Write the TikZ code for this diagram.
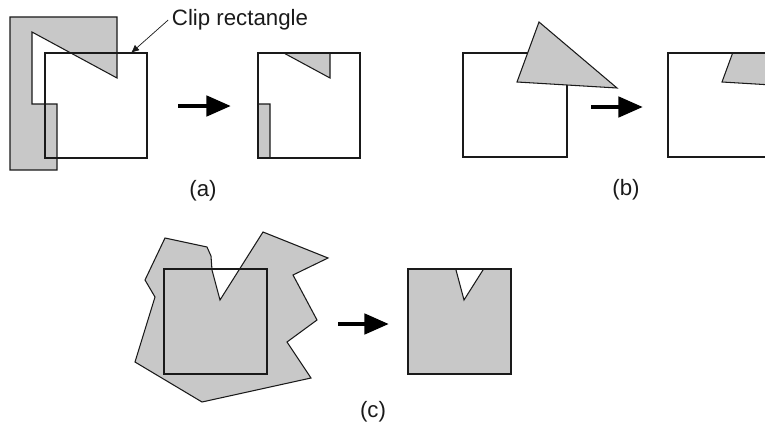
\documentclass[tikz,border=0pt]{standalone}
\usepackage{fontspec}
\setmainfont{Liberation Sans}
\usetikzlibrary{arrows.meta}
\definecolor{shade}{HTML}{C8C8C8}
\definecolor{ink}{HTML}{1A1A1A}
% polygons to be clipped, in pixel units
\newcommand{\polya}{(10,17) -- (117,17) -- (117,78) -- (32,32) -- (32,104) -- (57,104) -- (57,170) -- (10,170) -- cycle}
\newcommand{\polyb}{(539,22) -- (617,88) -- (517,82) -- cycle}
\newcommand{\polyc}{(165,238) -- (207,247) -- (211,256) -- (212,270) -- (220,300) -- (263,232) -- (328,258) -- (293,275) -- (317,320) -- (287,342) -- (311,378) -- (202,402) -- (135,362) -- (155,297) -- (145,280) -- cycle}

\begin{document}
\begin{tikzpicture}[
  x=0.03cm, y=-0.03cm,
  region/.style={fill=shade, draw=ink, line width=0.9pt, line join=miter},
  frame/.style={draw=ink, line width=1.2pt},
  bigarrow/.style={-{Triangle[length=21pt, width=17pt]}, line width=4.2pt, draw=black},
  leader/.style={-{Latex[length=7pt, width=6pt]}, line width=0.6pt, draw=ink},
  caption/.style={inner sep=0pt, font=\fontsize{19}{23}\selectfont, text=ink}
]
\useasboundingbox (0,0) rectangle (765,423);

% (a)
\filldraw[region] \polya;
\draw[frame] (45,53) rectangle (147,158);
\begin{scope}[shift={(213,0)}]
  \begin{scope}
    \clip (45,53) rectangle (147,158);
    \filldraw[region] \polya;
  \end{scope}
  \draw[frame] (45,53) rectangle (147,158);
\end{scope}
\coordinate (a1) at (178,106);
\coordinate (a2) at (231,106);
\draw[bigarrow] (a1) -- (a2);
\node[caption] (cliplabel) at (240,20) {Clip rectangle};
\coordinate (cliptip) at (131,53);
\draw[leader] ([xshift=-3pt]cliplabel.west) -- (cliptip);
\node[caption] (capa) at (203,191) {(a)};

% (b)
\draw[frame] (463,53) rectangle (567,157);
\filldraw[region] \polyb;
\begin{scope}[shift={(205,0)}]
  \begin{scope}
    \clip (463,53) rectangle (567,157);
    \filldraw[region] \polyb;
  \end{scope}
  \draw[frame] (463,53) rectangle (567,157);
\end{scope}
\coordinate (b1) at (591,107);
\coordinate (b2) at (643,107);
\draw[bigarrow] (b1) -- (b2);
\node[caption] (capb) at (626,190) {(b)};

% (c)
\filldraw[region] \polyc;
\draw[frame] (164,269) rectangle (267,374);
\begin{scope}[shift={(244,0)}]
  \begin{scope}
    \clip (164,269) rectangle (267,374);
    \filldraw[region] \polyc;
  \end{scope}
  \draw[frame] (164,269) rectangle (267,374);
\end{scope}
\coordinate (c1) at (338,324);
\coordinate (c2) at (389,324);
\draw[bigarrow] (c1) -- (c2);
\node[caption] (capc) at (373,412) {(c)};
\end{tikzpicture}
\end{document}
